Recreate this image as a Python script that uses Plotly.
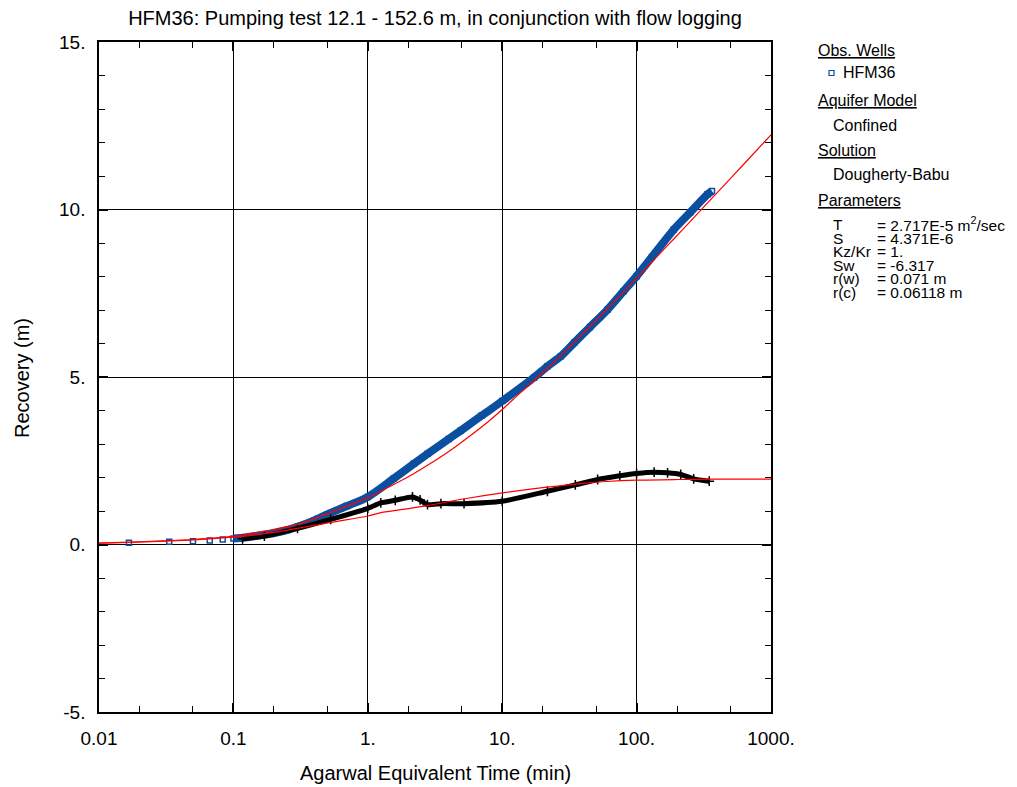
import plotly.graph_objects as go

# ---- data ----
blue_t = [0.0167, 0.0333, 0.05, 0.0667, 0.0833, 0.1, 0.117, 0.133, 0.15, 0.183, 0.217, 0.25, 0.3, 0.4, 0.5, 0.7,
          1.0, 1.56, 2.2, 2.79, 4.0, 4.92, 7.0, 10, 17.2, 21.7, 27.3, 34.3, 45, 60.7, 80, 100, 130, 189, 250, 336, 364]
blue_s = [0.05, 0.08, 0.10, 0.12, 0.15, 0.18, 0.20, 0.23, 0.26, 0.31, 0.37, 0.43, 0.53, 0.72, 0.90, 1.15,
          1.42, 1.97, 2.41, 2.71, 3.15, 3.40, 3.84, 4.28, 4.98, 5.32, 5.62, 6.02, 6.49, 7.01, 7.56, 8.01, 8.58, 9.40, 9.91, 10.45, 10.55]

deriv_t = [0.117, 0.17, 0.3, 0.53, 1.0, 1.25, 1.6, 2.15, 2.45, 2.78, 3.5, 5.2, 10, 21.7, 35, 51.3, 75, 100, 135, 170, 213, 266, 347]
deriv_s = [0.17, 0.25, 0.48, 0.75, 1.08, 1.24, 1.32, 1.42, 1.33, 1.19, 1.22, 1.22, 1.29, 1.59, 1.78, 1.94, 2.05, 2.12, 2.16, 2.14, 2.09, 1.96, 1.89]

model_t = [0.01, 0.0167, 0.03, 0.05, 0.1, 0.17, 0.3, 0.53, 1.0, 1.41, 2.0, 2.82, 3.98, 5.62, 7.94, 10, 13.5, 17.2, 21.7, 27.3, 35, 50, 70, 100, 140, 189, 250, 336, 500, 700, 1000]
model_s = [0.04, 0.07, 0.11, 0.15, 0.24, 0.40, 0.60, 0.96, 1.40, 1.70, 2.02, 2.38, 2.77, 3.21, 3.68, 4.03, 4.51, 4.89, 5.26, 5.64, 6.07, 6.70, 7.30, 7.95, 8.57, 9.12, 9.64, 10.19, 10.93, 11.56, 12.23]

mderiv_t = [0.01, 0.0167, 0.03, 0.05, 0.1, 0.17, 0.3, 0.53, 1.0, 1.25, 2.0, 2.78, 5, 10, 20, 38.5, 60, 100, 200, 378, 1000]
mderiv_s = [0.04, 0.06, 0.10, 0.14, 0.22, 0.32, 0.48, 0.66, 0.85, 0.95, 1.07, 1.16, 1.35, 1.54, 1.70, 1.82, 1.88, 1.92, 1.94, 1.95, 1.95]

x_tickvals = [0.01, 0.1, 1, 10, 100, 1000]
x_ticktext = ["0.01", "0.1", "1.", "10.", "100.", "1000."]
y_tickvals = [-5, 0, 5, 10, 15]
y_ticktext = ["-5.", "0.", "5.", "10.", "15."]

title = "HFM36: Pumping test 12.1 - 152.6 m, in conjunction with flow logging"
x_title = "Agarwal Equivalent Time (min)"
y_title = "Recovery (m)"

BLUE = "#0b4fa0"
FONT = "Liberation Sans, Arial, sans-serif"

# page body has an 8px margin: work in reference pixel coords and shift by OFF
OFF = 8
W, H = 1017 - OFF, 787 - OFF
L, T = 99 - OFF, 42 - OFF
R = W - (771 - OFF)
B = H - (712 - OFF)
pw, ph = W - L - R, H - T - B
def px(xp):
    return (xp - OFF - L) / pw
def py(yp):
    return 1 - (yp - OFF - T) / ph

fig = go.Figure()

band_t = [t for t in blue_t if t >= 0.1]
band_s = [s for t, s in zip(blue_t, blue_s) if t >= 0.1]
fig.add_trace(go.Scatter(x=band_t, y=band_s, mode="lines", line=dict(color=BLUE, width=8, shape="spline", smoothing=0.8), hoverinfo="skip"))
fig.add_trace(go.Scatter(x=blue_t, y=blue_s, mode="markers",
                         marker=dict(symbol="square-open", size=5, color=BLUE, line=dict(width=1.5, color=BLUE))))

fig.add_trace(go.Scatter(x=deriv_t, y=deriv_s, mode="lines+markers", line=dict(color="black", width=5, shape="spline", smoothing=0.6),
                         marker=dict(symbol="cross-thin-open", size=7, color="black", line=dict(width=1.5, color="black"))))

fig.add_trace(go.Scatter(x=model_t, y=model_s, mode="lines", line=dict(color="#ff0000", width=1.2, shape="spline", smoothing=0.8)))
fig.add_trace(go.Scatter(x=mderiv_t, y=mderiv_s, mode="lines", line=dict(color="#ff0000", width=1.2, shape="spline", smoothing=0.8)))

axis_common = dict(showline=True, linecolor="black", linewidth=1.5, mirror="ticks",
                   ticks="inside", tickcolor="black", ticklen=9, tickwidth=1.5,
                   showgrid=True, gridcolor="black", gridwidth=1, zeroline=False, automargin=False,
                   tickfont=dict(family=FONT, size=19, color="black"))

fig.update_xaxes(type="log", range=[-2, 3], tickvals=x_tickvals, ticktext=x_ticktext,
                 minor=dict(ticks="inside", ticklen=6, tickcolor="black", tickwidth=1, showgrid=False),
                 ticklabelstandoff=8, **axis_common)
fig.update_yaxes(range=[-5, 15], tickvals=y_tickvals, ticktext=y_ticktext,
                 minor=dict(dtick=1, ticks="inside", ticklen=6, tickcolor="black", tickwidth=1, showgrid=False),
                 ticklabelstandoff=8, **axis_common)

ann = []
def txt(x, y, s, size=16, anchor="left", angle=0):
    ann.append(dict(xref="paper", yref="paper", x=px(x), y=py(y), text=s, showarrow=False, textangle=angle,
                    xanchor=anchor, yanchor="middle", font=dict(family=FONT, size=size, color="black")))

# axis titles
txt(435, 773, x_title, 20, "center")
txt(22, 378, y_title, 20, "center", -90)

# legend / parameter panel
txt(816, 50, "<u>Obs. Wells</u>")
txt(841, 73, "HFM36")
txt(816, 101, "<u>Aquifer Model</u>")
txt(831, 125, "Confined")
txt(816, 151, "<u>Solution</u>")
txt(831, 174, "Dougherty-Babu")
txt(816, 201, "<u>Parameters</u>")
rows = [("T", "= 2.717E-5 m<sup>2</sup>/sec"), ("S", "= 4.371E-6"), ("Kz/Kr", "= 1."),
        ("Sw", "= -6.317"), ("r(w)", "= 0.071 m"), ("r(c)", "= 0.06118 m")]
for i, (k, v) in enumerate(rows):
    yy = 224.5 + i * 13.5
    txt(831, yy, k, 15.5)
    txt(875, yy, v, 15.5)

fig.add_shape(type="rect", xref="paper", yref="paper", x0=px(829), x1=px(834), y0=py(75.5), y1=py(70.5),
              line=dict(color=BLUE, width=1.2), fillcolor="white")

fig.update_layout(
    width=W, height=H,
    margin=dict(l=L, r=R, t=T, b=B, autoexpand=False),
    paper_bgcolor="white", plot_bgcolor="white",
    showlegend=False,
    title=dict(text=title, x=(435 - OFF) / W, xanchor="center", y=1 - (18 - OFF) / H, yanchor="middle",
               font=dict(family=FONT, size=20, color="black"), automargin=False),
    annotations=ann,
)

fig.write_html("out.html")
